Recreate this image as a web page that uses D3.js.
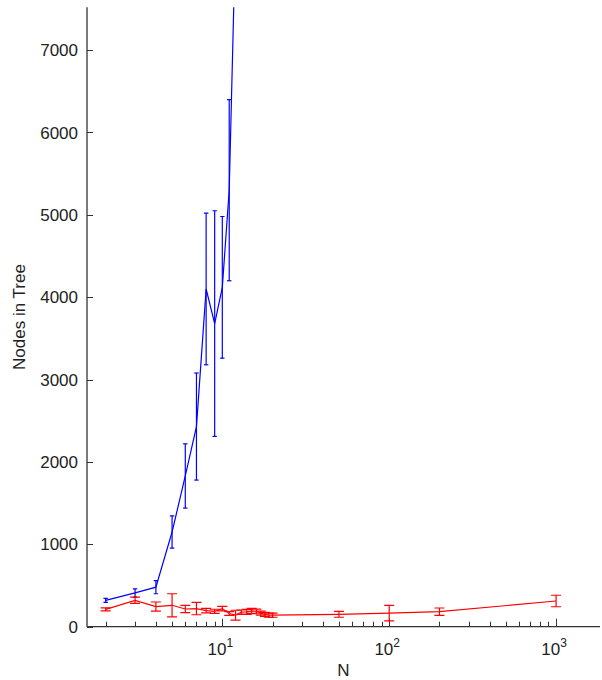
<!DOCTYPE html>
<html>
<head>
<meta charset="utf-8">
<script src="https://cdn.jsdelivr.net/npm/d3@7/dist/d3.min.js"></script>
<style>
  html, body { margin: 0; padding: 0; background: #fff; }
  svg { display: block; }
  text { font-family: "Liberation Sans", Arial, sans-serif; fill: #222; }
</style>
</head>
<body>
<svg id="chart" width="602" height="680"></svg>
<script>
// ---- data ----
const blueN    = [2, 3, 4, 5, 6, 7, 8, 9, 10, 11, 12];
const blueMean = [320, 410, 480, 1150, 1830, 2430, 4100, 3680, 4120, 5300, 8400];
const blueErr  = [25, 50, 80, 195, 390, 650, 920, 1370, 860, 1100, 800];

const redN    = [2, 3, 4, 5, 6, 7, 8, 9, 10, 11, 12, 13, 14, 15, 16, 17, 18, 19, 20, 50, 100, 200, 1000];
const redMean = [210, 320, 245, 260, 215, 220, 196, 187, 220, 160, 140, 176, 180, 192, 185, 165, 150, 140, 140, 150, 165, 182, 312];
const redErr  = [18, 38, 55, 140, 45, 75, 27, 25, 27, 22, 60, 27, 30, 30, 28, 25, 25, 25, 25, 35, 95, 45, 70];

const yTicks = [0, 1000, 2000, 3000, 4000, 5000, 6000, 7000];
const xMajor = [10, 100, 1000];
const xMajorExp = ["1", "2", "3"];
const xLabel = "N";
const yLabel = "Nodes in Tree";

(function () {
// ---- layout ----
const pLeft = 87, pRight = 600, pTop = 7.3, pBottom = 626.7;
const svg = d3.select("#chart");

const x = d3.scaleLog().domain([1.546, 1833]).range([pLeft, pRight]);
const y = d3.scaleLinear().domain([0, 7520]).range([pBottom, pTop]);

svg.append("defs").append("clipPath").attr("id", "plotclip")
  .append("rect").attr("x", pLeft).attr("y", pTop).attr("width", pRight - pLeft).attr("height", pBottom - pTop);

const axisColor = "#333";

// minor ticks
const minor = [];
for (let d = 1; d <= 1000; d *= 10) {
  for (let k = 2; k <= 9; k++) {
    const v = d * k;
    if (v >= 1.546 && v <= 1833) minor.push(v);
  }
}

const g = svg.append("g");

g.append("line").attr("x1", pLeft).attr("x2", pRight).attr("y1", pBottom).attr("y2", pBottom)
  .attr("stroke", axisColor).attr("stroke-width", 1.3);
g.append("line").attr("x1", pLeft).attr("x2", pLeft).attr("y1", pTop).attr("y2", pBottom)
  .attr("stroke", axisColor).attr("stroke-width", 1.3);

g.selectAll(".xminor").data(minor).enter().append("line")
  .attr("x1", d => Math.round(x(d)) + 0.5).attr("x2", d => Math.round(x(d)) + 0.5)
  .attr("y1", pBottom).attr("y2", pBottom - 5)
  .attr("stroke", axisColor).attr("stroke-width", 1);
g.selectAll(".xmajor").data(xMajor).enter().append("line")
  .attr("x1", d => Math.round(x(d)) + 0.5).attr("x2", d => Math.round(x(d)) + 0.5)
  .attr("y1", pBottom).attr("y2", pBottom - 8)
  .attr("stroke", axisColor).attr("stroke-width", 1);

xMajor.forEach((v, i) => {
  const t = g.append("text").attr("x", x(v) - 2).attr("y", 655)
    .attr("text-anchor", "middle").attr("font-size", 17);
  t.append("tspan").text("10");
  t.append("tspan").attr("font-size", 12).attr("dy", -8).text(xMajorExp[i]);
});

g.selectAll(".ytick").data(yTicks).enter().append("line")
  .attr("x1", pLeft).attr("x2", pLeft + 6)
  .attr("y1", d => Math.round(y(d)) + 0.5).attr("y2", d => Math.round(y(d)) + 0.5)
  .attr("stroke", axisColor).attr("stroke-width", 1);
g.selectAll(".ylab").data(yTicks).enter().append("text")
  .attr("x", 78).attr("y", d => y(d)).attr("dy", "0.36em")
  .attr("text-anchor", "end").attr("font-size", 17)
  .text(d => d);

g.append("text").attr("x", (pLeft + pRight) / 2).attr("y", 676)
  .attr("text-anchor", "middle").attr("font-size", 17).text(xLabel);
g.append("text").attr("transform", `translate(25,${(pTop + pBottom) / 2}) rotate(-90)`)
  .attr("text-anchor", "middle").attr("font-size", 17).text(yLabel);

function drawSeries(N, M, E, color, capHalf) {
  const pts = N.map((n, i) => ({ n, m: M[i], e: E[i] }));
  const sg = svg.append("g").attr("clip-path", "url(#plotclip)");
  sg.append("path").datum(pts)
    .attr("d", d3.line().x(d => x(d.n)).y(d => y(d.m)))
    .attr("fill", "none").attr("stroke", color).attr("stroke-width", 1.2);
  const eb = sg.selectAll(null).data(pts).enter().append("g");
  eb.append("line")
    .attr("x1", d => x(d.n)).attr("x2", d => x(d.n))
    .attr("y1", d => y(d.m - d.e)).attr("y2", d => y(d.m + d.e))
    .attr("stroke", color).attr("stroke-width", 1.2);
  [-1, 1].forEach(s => {
    eb.append("line")
      .attr("x1", d => x(d.n) - capHalf).attr("x2", d => x(d.n) + capHalf)
      .attr("y1", d => y(d.m + s * d.e)).attr("y2", d => y(d.m + s * d.e))
      .attr("stroke", color).attr("stroke-width", 1.2);
  });
}

drawSeries(blueN, blueMean, blueErr, "#0000ff", 2.2);
drawSeries(redN, redMean, redErr, "#ff0000", 5);
})();
</script>
</body>
</html>
